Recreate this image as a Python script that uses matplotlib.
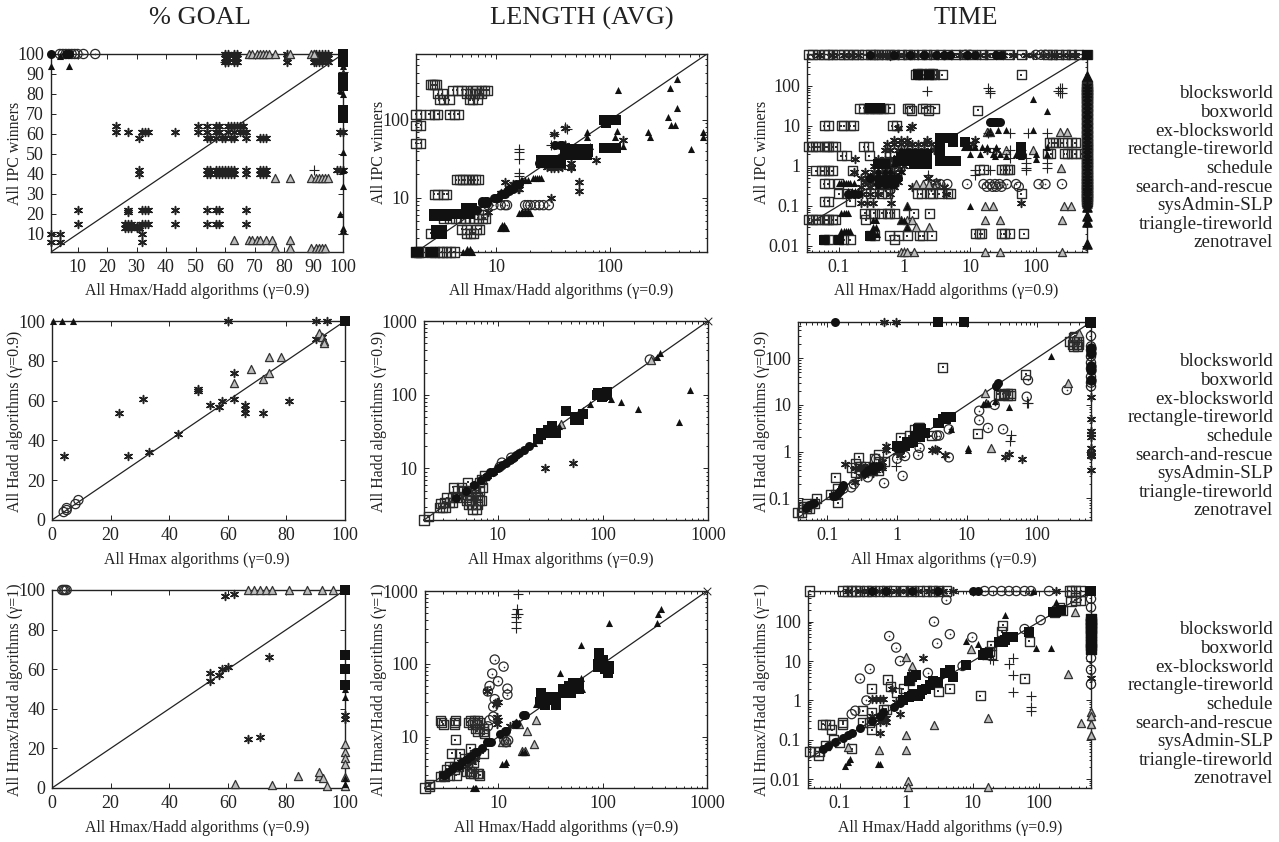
"""Scatter grid: % goal, average length and time for the planner comparisons."""

import matplotlib
matplotlib.use("Agg")
import matplotlib.pyplot as plt
from matplotlib.ticker import FixedLocator, NullFormatter

plt.rcParams["font.family"] = ["Liberation Serif", "DejaVu Serif"]

TXT = "#222222"
W, H = 1279, 842

domains = ["blocksworld", "boxworld", "ex-blocksworld", "rectangle-tireworld", "schedule",
           "search-and-rescue", "sysAdmin-SLP", "triangle-tireworld", "zenotravel"]
titles = ["% GOAL", "LENGTH (AVG)", "TIME"]

# all series are {y: [x, x, ...]}

# ---- row 1, % goal
goal_ipc_star = {
    100: [60, 61, 63, 64, 81, 90, 91, 92, 93, 94, 95],
    98: [60, 61, 63, 64, 81, 90, 91, 92, 93, 94, 95],
    96: [60, 61, 63, 64, 81, 90, 91, 92, 93, 95],
    64: [23, 51, 54, 57, 58, 61, 62, 63, 64, 65, 66],
    61: [23, 27, 32, 33, 34, 43, 51, 54, 57, 58, 61, 63, 65, 66, 67, 99, 100],
    58: [31, 54, 55, 57, 59, 60, 62, 63, 67, 72, 73, 74],
    42: [31, 54, 55, 57, 58, 59, 60, 61, 62, 63, 67, 72, 73, 74, 98, 99, 100],
    40: [31, 54, 55, 57, 58, 59, 60, 61, 62, 63, 67, 72, 73, 74],
    22: [10, 27, 32, 33, 34, 43, 54, 57, 58, 67],
    21: [27],
    15: [10, 26, 27, 28, 32, 33, 34, 43, 54, 57, 58, 67],
    13: [26, 27, 28, 30, 31],
    14: [30, 31],
    10: [1, 4, 32],
    6: [1, 4, 32],
}
goal_ipc_tri = {
    100: [68, 69, 71, 72, 73, 74, 75, 77, 82, 89, 90],
    38: [77, 82, 89, 91, 92, 93, 94, 95],
    7: [63, 68, 69, 71, 72, 74, 76, 82],
    3: [77, 82, 89, 91, 92, 93, 94],
}
goal_ipc_ftri = {
    94: [1, 7, 100],
    91: [100],
    99: [4],
    82: [99],
    80: [100],
    51: [100],
    42: [100],
    34: [100],
    20: [99],
    13: [100],
    12: [100],
}
goal_ipc_fsq = {
    100: [100], 99: [100], 98: [100], 97: [100], 96: [100],
    88: [100], 87: [100], 86: [100], 85: [100], 84: [100],
    72: [100], 71: [100], 70: [100], 69: [100], 68: [100],
}
goal_ipc_circ = {100: [4, 5, 6, 7, 8, 9, 10, 12, 16]}
goal_ipc_fcirc = {100: [1, 6, 7]}
goal_ipc_plus = {42: [90], 96: [60], 91: [100], 10: [100]}

len_ipc_sq = {
    280: [2.7, 2.8, 2.9, 3.0],
    240: [4.2, 4.6, 5, 5.5, 6.2, 6.8, 7.5, 8, 8.5],
    215: [3.1, 3.4, 5.5, 6, 6.5, 7, 7.5],
    180: [3.2, 3.5, 3.9, 5.9, 6.3, 6.9],
    118: [2, 2.2, 2.6, 2.9, 3.1, 3.9, 4.3, 4.7],
    85: [2, 2.2],
    50: [2, 2.2],
    17: [4.5, 4.8, 5.1, 5.4, 5.8, 6.2, 6.6, 7],
    11: [2.9, 3.1, 3.5, 3.7],
    5.4: [3.5, 3.9, 4.4, 4.9, 5.4, 5.9, 6.4, 7, 7.6, 8.1],
    6: [7, 7.6],
    3.9: [5, 5.5, 6.7, 7.2],
    3.5: [2.7, 5.5, 6, 6.4],
    2: [2, 2.1, 2.2, 2.7, 2.9, 3.2, 3.4, 3.7, 4, 4.3],
}
len_ipc_fsq = {
    100: [88, 92, 96, 100, 104, 108, 112],
    92: [92],
    44: [88, 92, 96, 100, 104, 108, 112],
    42: [40, 44, 48, 52, 56, 60, 64],
    38: [40, 44, 48, 52, 56, 60, 64],
    35: [42, 46, 50, 54, 58, 62],
    30: [25, 27, 29, 31, 33, 35, 37],
    28: [25, 27, 29, 31, 33, 35, 37],
    6.2: [2.9, 3.1, 3.3, 3.5, 3.7, 3.9, 4.1, 4.4, 4.7, 5.0, 5.3, 5.6, 5.9],
    5.8: [2.9, 3.1, 3.3, 3.5, 3.7],
    3.8: [3, 3.2, 3.4],
    3.4: [3, 3.2, 3.4],
    2: [2, 2.1, 2.7, 2.8],
    7.3: [5.5, 5.8, 6.2],
}
len_ipc_fcirc = {
    9: [7.6, 8, 8.4],
    8.4: [7.6, 8, 8.4],
    10: [9.6, 10, 10.4],
    11: [11, 11.6, 12],
    13: [13, 14],
    15: [15, 16],
    7: [6, 6.4, 6.8],
    28: [24, 27],
    12: [12.5, 13],
    47: [33, 36, 38],
}
len_ipc_ftri = {
    240: [117], 255: [330], 330: [380], 140: [380], 110: [320], 85: [340, 370],
    72: [115], 60: [110, 220, 640, 63], 70: [215, 640, 63], 46: [67, 130],
    42: [510],
    4.1: [10.8, 11, 11.5, 12, 12.3],
    6.3: [16, 16.5, 17, 18, 19, 20],
    18: [21, 22, 23, 24, 25],
    17: [16.5, 17, 18, 19],
    27: [24, 25, 27],
    2: [5.2, 5.5, 5.8, 6, 6.2],
    2.2: [5.6, 5.9],
    4.4: [11.2, 11.8],
    6.8: [17, 18, 19],
}
len_ipc_star = {
    16: [12, 53], 15: [14], 13: [13, 16, 15.5], 14: [15, 13.5], 10: [30], 12: [53], 28: [45], 24: [45, 30, 35, 32],
    30: [75], 55: [130], 47: [32, 40], 65: [32], 78: [40], 6.5: [8.5], 25: [45, 28, 38], 27: [34, 37], 11.5: [11],
}
len_ipc_plus = {42: [16], 38: [16], 31: [16], 21: [16], 19: [16], 66: [32], 80: [40], 75: [42],
                47: [30, 40], 40: [43]}
len_ipc_circ = {8: [8.5, 9.5, 11, 12, 12.5, 18, 19, 20, 22, 24, 26, 29]}

time_ipc_sq = {
    600: [0.035, 0.04, 0.05, 0.06, 0.07, 0.08, 0.1, 0.12, 0.14, 0.17, 0.2, 0.25, 0.3, 0.35, 0.4, 0.5,
          0.6, 0.7, 0.9, 1.1, 1.4, 1.8, 2.2, 2.8, 3.5, 4.5, 6, 8, 11, 15, 20, 28, 40, 60, 150, 180,
          220, 280, 350, 450, 600],
    210: [1.6, 1.8, 2.4, 2.7],
    190: [1.5, 1.7, 1.9, 2.3, 2.6, 2.9, 3.8, 60],
    28: [0.21, 0.24, 0.28, 0.31, 0.35, 0.39, 0.43, 0.48, 0.6, 1.1, 1.2, 1.9, 2.1, 2.9],
    25: [13, 1.3, 2.3],
    10: [0.06, 0.07, 0.11, 0.12, 0.15, 0.17, 0.65, 0.75],
    3: [0.035, 0.04, 0.045, 0.05, 0.06, 0.065, 0.07, 0.08, 0.09, 0.24, 0.28],
    3.8: [160, 180, 200, 250, 300, 350, 400],
    2: [150, 170, 270, 300, 350, 400, 480],
    1.8: [0.11, 0.13, 0.29],
    0.8: [14, 16, 30, 33, 37, 40],
    0.75: [0.045, 0.055, 0.06, 0.07, 0.08, 0.16],
    0.36: [0.06, 0.07, 0.1],
    0.2: [0.1, 0.13, 0.3, 0.45, 0.55, 1.6, 1.8, 2.4, 2.7, 3.4, 4.5, 5, 60],
    0.13: [0.06, 0.07, 0.15],
    0.065: [0.25, 0.3, 0.35, 0.45, 0.55, 0.6, 0.7, 1.4, 2.4],
    0.045: [0.035, 0.04, 0.045, 0.05, 0.06, 0.065, 0.07, 0.08, 0.09, 0.26],
    0.02: [12, 14, 15, 30, 33, 40, 65],
    0.018: [0.3, 0.35, 0.6, 0.8, 1.1, 1.7, 1.9, 2.6],
    0.014: [0.06, 0.07, 0.1, 0.12, 0.15, 0.7],
}
time_ipc_fsq = {
    5: [3.5, 4, 4.5, 5, 5.5],
    4: [3.5, 5.5, 8.5],
    3: [3.5, 60],
    2: [3.5, 60, 1, 1.2, 1.5, 1.9, 2.2],
    1.7: [0.9, 1.1, 1.3, 1.6, 1.9, 2.2],
    1.3: [3.5, 4, 4.5, 5, 5.5, 6, 0.8, 1, 1.2],
    1.1: [0.4, 0.5, 1.4, 1.8, 2.2],
    600: [600],
    190: [1.6, 2.4],
    28: [0.3, 0.35, 0.42],
    0.014: [0.06, 0.1],
    0.018: [0.3],
    1.15: [1.6, 1.9],
}
time_ipc_star = {
    600: [0.05, 0.08, 0.12, 0.16, 0.2, 0.3, 0.38, 0.45, 0.55, 0.65, 0.8, 1, 1.2, 1.4, 1.6, 2, 2.5, 3.2, 4, 5.2, 7, 9,
          14, 18, 25, 32, 45, 70, 90, 130, 170, 200, 260, 320, 400],
    550: [0.6],
    10: [1.3],
    9: [1.2, 0.8],
    4.5: [0.7, 0.9, 1.1, 2.2, 12],
    3.5: [0.55, 0.7, 0.9, 1.1, 1.3, 1.6, 2, 2.5, 9, 11],
    2.5: [0.5, 0.6, 0.8, 1, 1.3, 1.6, 2, 2.8, 18, 25],
    1.5: [0.18, 0.4, 0.5, 0.6, 0.7, 0.9, 1.1],
    1: [0.35, 0.45, 0.55, 0.65, 0.8, 1],
    0.7: [0.17, 0.25, 0.35, 0.45, 0.55, 0.7, 0.9],
    0.5: [0.22, 0.28, 0.33, 0.4, 0.5, 0.6, 0.7, 2.3],
    0.4: [0.25, 0.3, 0.4, 0.5, 0.6, 0.8, 3],
    0.3: [0.22, 0.3, 0.4, 0.5, 0.7, 1.3, 2.5, 4],
    0.2: [0.23, 0.3, 0.4, 0.6, 4.3],
    0.12: [0.22, 0.27, 0.33, 0.63, 60],
}
time_ipc_tri = {
    7: [18, 20, 230, 300],
    2.5: [35, 90],
    0.9: [240],
    0.35: [1.5, 1.9, 2.4, 3],
    0.1: [1.1, 17, 22, 270, 340],
    0.045: [0.9, 1.1, 1.3, 17, 28, 250],
    0.03: [1.1, 1.5, 2.4],
    0.007: [0.9, 1, 1.1, 1.4, 17, 28, 250],
}
time_ipc_ftri = {
    46: [90], 24: [150], 8: [90, 35, 27], 7: [19, 20],
    0.1: [10, 1.1],
    3: [8, 9, 10, 12, 15, 18, 25, 150],
    2: [10, 14, 22, 28, 50, 100, 150],
    1.8: [24, 60, 35],
    1.5: [4.8, 5, 5.2, 100],
    1.2: [0.45, 0.55, 0.7],
    0.8: [0.4, 0.5, 0.6, 0.9],
    0.6: [0.3, 0.4, 0.5, 0.7],
    0.37: [0.1, 0.11, 0.12, 0.13, 0.14, 0.15, 0.17],
    0.23: [0.14, 0.16, 0.18],
    0.065: [0.11, 0.12, 0.13, 0.14],
    0.024: [0.11, 0.12, 0.13, 0.14, 0.15],
    0.045: [0.33, 0.37, 0.9, 1],
    0.03: [0.33, 0.37, 1.1],
    0.02: [0.35, 0.38],
}
time_ipc_fcirc = {
    12.5: [20, 21, 22, 23, 24, 26, 28],
    0.2: [0.14, 0.17, 0.2],
    600: [0.3, 0.7, 1.2, 2, 3, 4, 5, 9, 12, 25, 30],
    0.5: [0.3, 0.4, 0.5, 0.6, 0.8],
    0.35: [0.4, 0.5, 0.6, 0.7],
}
time_ipc_plus = {
    75: [2.2], 90: [19, 230, 250], 75.5: [20, 220], 65: [20, 230, 250],
    6.5: [19, 40, 75, 150], 2.5: [40, 60], 1.6: [40, 70], 1.2: [70, 150], 0.9: [70, 150], 0.6: [2.3, 12],
    0.8: [20, 12, 70],
}
time_ipc_circ = {
    600: [8.5, 10, 100, 120, 140],
    0.35: [3, 3.5, 4.5, 9, 16, 20, 24, 28, 36, 50, 110, 140, 250],
    0.3: [18, 22, 25, 30, 55],
}
# right edge of the TIME panels, values of y at x=600
time_ipc_right = [100, 85, 70, 60, 50, 40, 32, 25, 20, 15, 12, 9, 7, 5.5, 4.5, 3.5, 3, 2.5, 2, 1.6, 1.3, 1.1,
                  0.9, 0.75, 0.6, 0.5, 0.42, 0.36, 0.3, 0.25, 0.22, 0.18, 0.15, 0.13]
time_ipc_right_ftri = [180, 0.12, 0.095, 0.055, 0.04, 0.011]

# ---- row 2
goal_hadd_star = {
    32: [4, 26], 54: [23, 66, 72], 61: [31, 62], 34: [33], 43: [43], 66: [50], 65: [50], 58: [54, 66],
    57: [57], 60: [58, 81], 100: [60, 90, 94], 74: [62], 56: [66], 92: [92], 91: [90],
}
goal_hadd_tri = {69: [62], 71: [72], 74: [74], 76: [68], 82: [74, 78], 94: [91], 92: [92], 90: [93], 89: [93]}
goal_hadd_ftri = {100: [0.5, 3.5, 7]}
goal_hadd_fsq = {100: [100]}
goal_hadd_circ = {4: [4], 5: [5], 6: [5], 8: [8], 10: [9]}

len_hadd_sq = {
    2: [2], 2.2: [2.2], 3: [2.8, 3, 3.2], 3.3: [2.9], 3.5: [3.1, 3.5, 3.7], 4: [3.3, 3.7, 4.1, 5.1, 6.5],
    4.4: [5.2, 5.7, 6.2], 3.7: [5.1, 5.4, 6.7, 7.1], 3.2: [5.3, 5.6, 6.2, 6.5], 5: [4.2, 4.7, 5.5, 6.2, 6.8],
    5.6: [3.8, 4.5, 6, 7.2], 6.5: [5.2, 6.8], 2.8: [5.8, 6.3], 7: [7], 8: [7.5],
}
len_hadd_fsq = {
    105: [90, 95, 100, 105], 100: [88, 105, 110], 95: [100], 108: [110], 92: [98],
    60: [45], 55: [65], 50: [55, 60], 45: [55, 60], 33: [30, 33], 30: [26, 30, 36], 28: [26], 38: [33], 25: [24],
    100.5: [92, 96],
}
len_hadd_fcirc = {9: [8.5, 9], 10: [10], 11: [11], 12: [12], 13: [13], 14: [14], 15: [15], 16: [16], 18: [18],
                  6: [6], 7: [7], 8: [8], 5: [5], 4: [4], 20: [20]}
len_hadd_ftri = {115: [680], 65: [215], 80: [150], 43: [530], 88: [120], 62: [65], 370: [350], 38: [38], 330: [330],
                 25: [25], 22: [22], 75: [75]}
len_hadd_star = {10: [28], 12: [52], 8: [8], 9: [9], 14: [14], 6: [6]}
len_hadd_plus = {14: [14], 16: [16], 12.5: [12.5]}
len_hadd_circ = {12: [11], 33: [30], 10.5: [10.5], 14: [13.5], 300: [280]}
len_hadd_tri = {40: [40], 25: [24], 300: [290]}

time_hadd_sq = {
    65: [4.5], 46: [70], 300: [350], 280: [340], 230: [300, 340, 370, 400], 200: [330, 370, 400], 180: [340, 380],
    18: [35, 38, 42], 16: [30, 38, 42], 17: [28, 33], 2.4: [14], 3.3: [2, 2.1], 3: [1.8], 2.2: [1.5, 3.1], 2: [1.1],
    0.75: [0.28], 0.7: [0.48], 0.85: [0.55], 0.55: [0.25], 0.45: [0.22], 0.48: [0.3, 0.35], 0.28: [0.13],
    0.12: [0.11, 0.13], 0.16: [0.14], 0.08: [0.14], 0.1: [0.07], 0.075: [0.05, 0.065], 0.065: [0.045, 0.05],
    0.06: [0.05, 0.055], 0.05: [0.038, 0.043], 0.4: [0.35, 0.45, 0.55], 0.6: [0.55, 0.65], 0.35: [0.25, 0.3],
}
time_hadd_fsq = {
    600: [3.8, 9, 600, 580], 5.5: [5, 5.5, 6], 5: [4.5, 5], 4: [3.8, 4], 2.5: [2, 2.5], 2.2: [1.8], 1.6: [1.4, 1.7],
    1.3: [1, 1.2, 1.3], 1.2: [1.1], 570: [600], 3: [2, 2.2], 2: [1.9, 2.1], 1.5: [1.5],
}
time_hadd_star = {
    600: [0.65, 0.95], 0.55: [0.18], 1.3: [0.7], 1.1: [0.7, 3.2, 3.7], 1.15: [3.5], 0.85: [4.8, 1.1], 0.75: [35],
    0.9: [40], 0.68: [62], 0.5: [0.3, 0.4, 0.5, 0.6], 0.45: [0.3, 0.6, 0.25], 0.4: [0.4, 0.5], 0.35: [0.33, 0.45],
    0.22: [0.25], 1: [1, 1], 0.6: [0.6], 0.3: [0.3],
}
time_hadd_circ = {
    0.75: [5.5], 3: [5.5, 33], 2.2: [4, 3.7], 1.2: [2.1], 0.85: [2], 0.8: [1.3], 0.3: [1.2], 0.21: [0.65], 0.28: [0.38],
    7.5: [15], 4.7: [15], 3.2: [20], 10: [25], 15: [72], 34: [75], 21: [270], 0.16: [0.17], 0.17: [0.22],
    0.2: [0.24], 0.7: [0.5, 1],
}
time_hadd_tri = {18: [18], 1.2: [22], 30: [280], 350: [400], 11: [19]}
time_hadd_ftri = {110: [160], 9: [40], 12: [25], 11: [18, 20], 3: [6], 1.2: [10.5], 1.1: [10.5], 10.5: [17]}
time_hadd_fcirc = {
    600: [0.13], 29: [28], 25: [26], 0.17: [0.16], 0.19: [0.17], 0.13: [0.14], 0.07: [0.055], 0.4: [0.38, 0.45],
    0.11: [0.12, 0.13], 0.14: [0.15], 0.35: [0.35], 0.5: [0.45, 0.55], 0.06: [0.05], 0.08: [0.065],
}
time_hadd_plus = {2.3: [43], 1.7: [42], 11: [75, 72], 0.5: [0.95], 1.2: [0.75]}
time_hadd_right_star = [15, 5, 2.8, 2.4, 2, 1.2, 0.95, 0.85, 0.8, 0.4]
time_hadd_right_circ = [300, 180, 150, 110, 80, 60, 40, 30, 25]
time_hadd_right_fcirc = [170, 130, 70, 55, 35]

# ---- row 3
goal_gam_circ = {100: [3.5, 4, 4.5, 5]}
goal_gam_star = {54: [54], 58: [54], 57: [57], 60: [58], 61: [60], 25: [67], 26: [71], 66: [74], 97: [59], 98: [62],
                 37: [100], 35: [100]}
goal_gam_tri = {
    100: [67, 69, 71, 73, 75, 81, 87, 92, 96], 2: [62.5], 1.5: [75], 6: [84, 91], 8: [91], 5: [92.5], 1: [94],
    22: [100], 18: [100], 15: [100], 12: [100], 5.5: [100], 1.2: [100],
}
goal_gam_fsq = {100: [100], 67: [100], 60: [100], 52: [100]}
goal_gam_ftri = {50: [100], 46: [100], 5: [100], 2: [100]}

len_gam_sq = {
    17: [2.8, 3.9, 5.4, 5.9, 6.4], 16: [2.9, 3.8, 5.2, 6, 6.7], 15: [3, 3.8, 5.7, 6.2], 13: [6.1, 6.6, 7.3], 12: [6.3, 7.2],
    11: [7.4], 9.2: [3.9], 6: [3.6, 4.3, 7.2], 7: [5.4], 3.4: [5, 5.3, 5.6], 3.2: [5.4, 5.8, 6.3, 6.5], 3: [6.7, 3, 3.4, 4],
    4: [3.4, 3.8, 4.2], 4.5: [4.2, 5.8], 5: [4.8, 5.4], 3.6: [3.2, 3.8], 2.1: [2.2], 2: [2], 2.2: [2.2], 5.7: [5.9], 2.9: [2.8, 3.1],
}
len_gam_fsq = {
    140: [93], 115: [100], 105: [93, 97], 100: [90, 100], 92: [90, 110], 85: [105, 115], 75: [112], 95: [115],
    55: [52, 60], 50: [48], 45: [42, 48, 60], 40: [26, 42, 50], 35: [28, 32, 36], 32: [30, 34], 27: [28, 36], 30: [25],
}
len_gam_fcirc = {8.5: [7.9, 8.2, 8.5], 11: [10.4], 12: [11.6, 12], 6.3: [6, 6.3], 5: [5], 4: [3.9, 4.2], 3.3: [3.3], 3: [3, 3.1],
                 20: [17.5, 18], 15: [15], 3.6: [3.6], 4.5: [4.5], 5.5: [5.5], 7: [7]}
len_gam_ftri = {560: [360], 480: [340], 360: [115, 330], 180: [62], 75: [39], 65: [62], 45: [63], 40: [40], 28: [23, 24],
                6.3: [17, 18], 4.2: [11, 11.7], 4.5: [12], 2: [5.7, 6, 6.2], 20: [18], 75.5: [115]}
len_gam_tri = {17: [23], 15: [16], 12: [19], 8: [22], 8.5: [11, 12], 6.5: [18, 17]}
len_gam_circ = {
    115: [9.3], 92: [11.3], 74: [8.8], 58: [10], 50: [8.3], 46: [12.3], 42: [8], 38: [12.3], 33: [9.3], 26: [9], 19: [9],
    17: [8.3], 14: [8], 9: [11.5, 12.5], 8.5: [12],
}
len_gam_star = {42: [7.8], 30: [9.7, 10], 28: [9.5], 19: [9.7], 17: [10], 15: [9.8], 14: [13], 15.5: [15], 5: [5, 6], 4: [5], 4.6: [4.4, 5.6]}
len_gam_plus = {900: [15.5], 560: [15.3], 480: [14.8, 15.5], 440: [15], 380: [15], 310: [15]}

time_gam_sq = {
    600: [0.035, 0.11, 0.13, 0.15, 0.17, 0.2, 0.25, 0.3, 0.4, 0.5, 0.65, 0.9, 1.2, 1.6, 2, 2.5, 3, 4, 280, 310, 350, 420],
    420: [350], 350: [350, 420], 320: [300], 230: [200], 190: [180, 220], 170: [170], 80: [28], 55: [27], 32: [70],
    3.7: [60], 1.3: [13], 3.2: [1.1], 3.4: [0.52], 2.2: [0.58], 2: [0.3, 0.9, 4.5], 1.7: [3], 1.6: [0.7],
    0.6: [0.45, 0.5], 0.55: [0.22], 0.5: [0.3], 0.28: [0.11, 0.22, 0.28], 0.25: [0.055, 0.07, 0.11], 0.24: [0.06], 0.18: [0.075, 0.3],
    0.06: [0.15], 0.05: [0.035, 0.042, 0.05], 0.04: [0.047], 0.07: [0.06], 0.085: [0.1], 0.1: [0.08],
    15: [16, 19], 25: [19], 18: [18],
}
time_gam_fsq = {
    600: [580, 600], 55: [70], 40: [33, 38, 40], 35: [30], 30: [25, 28], 8: [8], 6: [4.5], 5: [3.8], 4.5: [1.4], 4: [1.2, 5],
    3.2: [1.1, 2.5], 3: [3], 2.5: [2.3], 2: [2], 1.5: [1.3, 1.6], 1.2: [1.1], 1: [0.9], 180: [180, 160], 200: [210],
    16: [15, 17], 14: [14], 1.8: [1.7], 1.3: [1.2, 1.5],
}
time_gam_star = {
    600: [0.13, 0.2, 0.26, 0.3, 0.38, 0.5, 0.7, 0.8, 1, 1.5, 2.2, 2.8, 3.5, 5, 180], 12: [1.8], 1.1: [0.3, 0.35, 0.4, 0.45], 0.15: [0.4], 2: [0.6], 0.45: [0.8],
    0.28: [0.4, 0.5], 0.9: [0.7], 14: [14], 0.4: [0.3, 0.4], 0.35: [0.45, 0.5],
}
time_gam_circ = {
    600: [15, 20, 27, 35, 45, 60, 75, 140], 360: [4], 100: [2.6], 110: [105], 48: [4.5], 43: [0.55], 40: [9.8], 28: [2.9],
    22: [0.7], 10: [0.8], 6.3: [0.28], 3.6: [0.2], 1: [0.25], 0.55: [0.17], 0.45: [0.15], 7.5: [7], 5: [2.1], 65: [60],
}
time_gam_tri = {
    13: [1], 7.5: [1.2], 5: [1.15], 4.7: [270], 180: [340], 0.35: [17], 0.24: [2.6], 0.13: [1], 0.055: [1, 0.38],
    0.065: [0.13], 0.009: [1.05], 0.0065: [1.05, 17], 20: [9.5], 0.27: [420],
}
time_gam_ftri = {
    150: [30], 320: [180], 600: [10, 80], 22: [90, 150], 33: [8, 30], 27: [12], 0.032: [0.14], 0.027: [0.13], 0.022: [0.12],
    0.025: [0.37, 0.4],
}
time_gam_fcirc = {
    600: [0.3, 0.5, 1.2, 3, 10, 12], 0.06: [0.055], 0.07: [0.065], 0.09: [0.085], 0.11: [0.11], 0.13: [0.13], 0.15: [0.15],
    0.2: [0.2], 0.3: [0.3], 0.4: [0.4], 0.5: [0.45], 0.7: [0.65], 0.85: [0.8],
}
time_gam_plus = {12: [40], 8.5: [35], 4.5: [40], 1.6: [40], 1.3: [75], 0.7: [75], 0.55: [75], 10.5: [20], 11: [18]}
time_gam_right_fsq = [120, 100, 85, 70, 55, 45, 30, 25, 20]
time_gam_right_circ = [380, 230, 110, 12, 6, 2.6]
time_gam_right_star = [3.8]
time_gam_right_tri = [0.5, 0.4, 0.25, 0.13]


def flat(rows):
    xs, ys = [], []
    for y, row in rows.items():
        xs += row
        ys += [y] * len(row)
    return xs, ys


def sq(ax, rows):
    xs, ys = flat(rows)
    ax.scatter(xs, ys, s=42, marker="s", facecolors="none", edgecolors="#2a2a2a", linewidths=1.0, clip_on=False, zorder=3)
    ax.scatter(xs, ys, s=1.5, marker="s", color="#333333", linewidths=0, clip_on=False, zorder=3)


def fsq(ax, rows):
    xs, ys = flat(rows)
    ax.scatter(xs, ys, s=52, marker="s", color="#111111", linewidths=0, clip_on=False, zorder=6)


def circ(ax, rows):
    xs, ys = flat(rows)
    ax.scatter(xs, ys, s=44, marker="o", facecolors="none", edgecolors="#2a2a2a", linewidths=0.9, clip_on=False, zorder=4)
    ax.scatter(xs, ys, s=1.5, marker="o", color="#333333", linewidths=0, clip_on=False, zorder=4)


def fcirc(ax, rows):
    xs, ys = flat(rows)
    ax.scatter(xs, ys, s=42, marker="o", color="#111111", linewidths=0, clip_on=False, zorder=6)


def star(ax, rows):
    xs, ys = flat(rows)
    ax.scatter(xs, ys, s=32, marker=(6, 2, 0), color="#222222", linewidths=1.1, clip_on=False, zorder=4)


def tri(ax, rows):
    xs, ys = flat(rows)
    ax.scatter(xs, ys, s=34, marker="^", facecolors="#bdbdbd", edgecolors="#333333", linewidths=0.9, clip_on=False, zorder=4)


def ftri(ax, rows):
    xs, ys = flat(rows)
    ax.scatter(xs, ys, s=26, marker="^", color="#111111", linewidths=0, clip_on=False, zorder=5)


def plus(ax, rows):
    xs, ys = flat(rows)
    ax.scatter(xs, ys, s=42, marker="+", color="#222222", linewidths=0.8, clip_on=False, zorder=5)


def make_ax(fig, left, right, top, bottom, xlim, ylim, logx=False):
    ax = fig.add_axes([left / W, 1 - bottom / H, (right - left) / W, (bottom - top) / H])
    if logx:
        ax.set_xscale("log")
        ax.set_yscale("log")
    ax.set_xlim(*xlim)
    ax.set_ylim(*ylim)
    ax.tick_params(which="both", direction="in", top=True, right=True, labelsize=13, labelcolor=TXT,
                   width=0.6, pad=5)
    ax.tick_params(which="major", length=3.5)
    ax.tick_params(which="minor", length=1.8)
    ax.xaxis.set_minor_formatter(NullFormatter())
    ax.yaxis.set_minor_formatter(NullFormatter())
    for s in ax.spines.values():
        s.set_linewidth(1.0)
        s.set_color("#222222")
    lo, hi = max(xlim[0], ylim[0]), min(xlim[1], ylim[1])
    ax.plot([lo, hi], [lo, hi], color="#222222", lw=0.9, zorder=2)
    return ax


def log_ticks(ax, xt, yt, xl, yl):
    ax.xaxis.set_major_locator(FixedLocator(xt))
    ax.yaxis.set_major_locator(FixedLocator(yt))
    ax.set_xticklabels(xl)
    ax.set_yticklabels(yl)


fig = plt.figure(figsize=(W / 100, H / 100), dpi=100)

# row 1
ax = make_ax(fig, 51, 343, 54, 252, (1, 100), (1, 100))
ax.set_xticks(range(10, 101, 10))
ax.set_yticks(range(10, 101, 10))
star(ax, goal_ipc_star); tri(ax, goal_ipc_tri); ftri(ax, goal_ipc_ftri); fsq(ax, goal_ipc_fsq)
circ(ax, goal_ipc_circ); fcirc(ax, goal_ipc_fcirc); plus(ax, goal_ipc_plus)

ax = make_ax(fig, 416, 707, 54, 252, (2, 700), (2, 700), logx=True)
log_ticks(ax, [10, 100], [10, 100], ["10", "100"], ["10", "100"])
sq(ax, len_ipc_sq); fsq(ax, len_ipc_fsq); fcirc(ax, len_ipc_fcirc); ftri(ax, len_ipc_ftri)
star(ax, len_ipc_star); plus(ax, len_ipc_plus); circ(ax, len_ipc_circ)

ax = make_ax(fig, 807, 1087, 54, 252, (0.033, 600), (0.007, 630), logx=True)
log_ticks(ax, [0.1, 1, 10, 100], [0.01, 0.1, 1, 10, 100], ["0.1", "1", "10", "100"], ["0.01", "0.1", "1", "10", "100"])
sq(ax, time_ipc_sq); fsq(ax, time_ipc_fsq); star(ax, time_ipc_star); tri(ax, time_ipc_tri)
ftri(ax, time_ipc_ftri); fcirc(ax, time_ipc_fcirc); plus(ax, time_ipc_plus); circ(ax, time_ipc_circ)
ax.scatter([600] * len(time_ipc_right), time_ipc_right, s=46, marker="s", color="#2a2a2a", clip_on=False, zorder=6)
ax.scatter([600] * len(time_ipc_right), time_ipc_right, s=32, marker=(6, 2, 0), color="#111111", linewidths=1.1,
           clip_on=False, zorder=6)
ax.scatter([600] * len(time_ipc_right_ftri), time_ipc_right_ftri, s=44, marker="^", color="#111111", clip_on=False, zorder=6)

# row 2
ax = make_ax(fig, 52, 345, 321, 520, (0, 100), (0, 100))
ax.set_xticks(range(0, 101, 20))
ax.set_yticks(range(0, 101, 20))
star(ax, goal_hadd_star); tri(ax, goal_hadd_tri); ftri(ax, goal_hadd_ftri); fsq(ax, goal_hadd_fsq); circ(ax, goal_hadd_circ)

ax = make_ax(fig, 424, 708, 321, 520, (2, 1000), (2, 1000), logx=True)
log_ticks(ax, [10, 100, 1000], [10, 100, 1000], ["10", "100", "1000"], ["10", "100", "1000"])
sq(ax, len_hadd_sq); fsq(ax, len_hadd_fsq); fcirc(ax, len_hadd_fcirc); ftri(ax, len_hadd_ftri)
star(ax, len_hadd_star); plus(ax, len_hadd_plus); circ(ax, len_hadd_circ); tri(ax, len_hadd_tri)
ax.scatter([1000], [1000], s=30, marker="x", color="#222222", linewidths=0.7, clip_on=False, zorder=5)

ax = make_ax(fig, 798, 1091, 322, 520, (0.038, 600), (0.034, 600), logx=True)
log_ticks(ax, [0.1, 1, 10, 100], [0.1, 1, 10, 100], ["0.1", "1", "10", "100"], ["0.1", "1", "10", "100"])
sq(ax, time_hadd_sq); fsq(ax, time_hadd_fsq); star(ax, time_hadd_star); circ(ax, time_hadd_circ)
tri(ax, time_hadd_tri); ftri(ax, time_hadd_ftri); fcirc(ax, time_hadd_fcirc); plus(ax, time_hadd_plus)
ax.scatter([600] * len(time_hadd_right_star), time_hadd_right_star, s=32, marker=(6, 2, 0), color="#222222", linewidths=1.1,
           clip_on=False, zorder=5)
ax.scatter([600] * len(time_hadd_right_circ), time_hadd_right_circ, s=44, marker="o", facecolors="none", edgecolors="#222222",
           linewidths=0.9, clip_on=False, zorder=5)
ax.scatter([600] * len(time_hadd_right_fcirc), time_hadd_right_fcirc, s=42, marker="o", color="#111111", clip_on=False, zorder=6)

# row 3
ax = make_ax(fig, 52, 345, 590, 788, (0, 100), (0, 100))
ax.set_xticks(range(0, 101, 20))
ax.set_yticks(range(0, 101, 20))
circ(ax, goal_gam_circ); star(ax, goal_gam_star); tri(ax, goal_gam_tri); fsq(ax, goal_gam_fsq); ftri(ax, goal_gam_ftri)

ax = make_ax(fig, 425, 707, 591, 788, (2, 1000), (2, 1000), logx=True)
log_ticks(ax, [10, 100, 1000], [10, 100, 1000], ["10", "100", "1000"], ["10", "100", "1000"])
sq(ax, len_gam_sq); fsq(ax, len_gam_fsq); fcirc(ax, len_gam_fcirc); ftri(ax, len_gam_ftri)
tri(ax, len_gam_tri); circ(ax, len_gam_circ); star(ax, len_gam_star); plus(ax, len_gam_plus)
ax.scatter([1000], [1000], s=30, marker="x", color="#222222", linewidths=0.7, clip_on=False, zorder=5)

ax = make_ax(fig, 808, 1091, 591, 788, (0.033, 600), (0.006, 600), logx=True)
log_ticks(ax, [0.1, 1, 10, 100], [0.01, 0.1, 1, 10, 100], ["0.1", "1", "10", "100"], ["0.01", "0.1", "1", "10", "100"])
sq(ax, time_gam_sq); fsq(ax, time_gam_fsq); star(ax, time_gam_star); circ(ax, time_gam_circ)
tri(ax, time_gam_tri); ftri(ax, time_gam_ftri); fcirc(ax, time_gam_fcirc); plus(ax, time_gam_plus)
ax.scatter([600] * len(time_gam_right_fsq), time_gam_right_fsq, s=52, marker="s", color="#111111", clip_on=False, zorder=6)
ax.scatter([600] * len(time_gam_right_circ), time_gam_right_circ, s=44, marker="o", facecolors="none", edgecolors="#222222",
           linewidths=0.9, clip_on=False, zorder=5)
ax.scatter([600] * len(time_gam_right_star), time_gam_right_star, s=32, marker=(6, 2, 0), color="#222222", linewidths=1.1,
           clip_on=False, zorder=5)
ax.scatter([600] * len(time_gam_right_tri), time_gam_right_tri, s=34, marker="^", facecolors="#bdbdbd", edgecolors="#333333",
           clip_on=False, zorder=5)


def put(x, y, s, **kw):
    fig.text(x / W, 1 - y / H, s, color=TXT, va="center", **kw)


# titles and axis labels
for t, x in zip(titles, [200, 582, 966]):
    put(x, 18, t, fontsize=19, ha="center")

hh = "All Hmax/Hadd algorithms (γ=0.9)"
hm = "All Hmax algorithms (γ=0.9)"
for x, y, s in [(197, 291, hh), (561, 291, hh), (946, 291, hh),
                (197, 560, hm), (561, 560, hm), (944, 560, hm),
                (197, 828, hh), (566, 828, hh), (950, 828, hh)]:
    put(x, y, s, fontsize=11.4, ha="center")

for x, y, s in [(15, 153, "All IPC winners"), (379, 152, "All IPC winners"), (762, 152, "All IPC winners"),
                (15, 421, "All Hadd algorithms (γ=0.9)"), (379, 421, "All Hadd algorithms (γ=0.9)"),
                (762, 421, "All Hadd algorithms (γ=0.9)"),
                (15, 690, "All Hmax/Hadd algorithms (γ=1)"), (379, 690, "All Hmax/Hadd algorithms (γ=1)"),
                (762, 690, "All Hmax/Hadd algorithms (γ=1)")]:
    put(x, y, s, fontsize=11.4, rotation=90, ha="center")

# domain lists at the right of every row
for y0 in [94, 362, 630]:
    for i, d in enumerate(domains):
        put(1273, y0 + i * 18.6, d, fontsize=13.7, ha="right")

fig.savefig("out.png", dpi=100)
